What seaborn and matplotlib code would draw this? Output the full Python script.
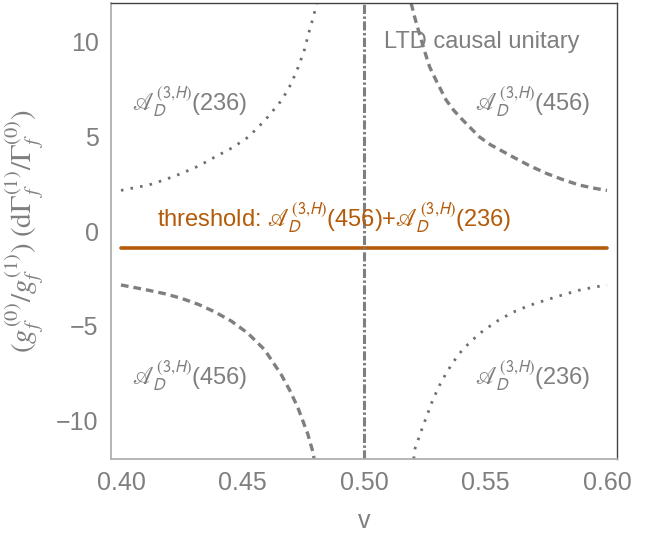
import matplotlib
matplotlib.use("Agg")
import matplotlib.pyplot as plt
import seaborn as sns

# values
# A_D^(3,H)(236), branch left of the pole (dotted, top left)
v_236_left = [0.400, 0.405, 0.4113, 0.418, 0.425, 0.432, 0.4388, 0.446, 0.4525, 0.4593,
              0.4662, 0.470, 0.473, 0.4755, 0.4772, 0.479, 0.4806]
y_236_left = [2.14, 2.27, 2.42, 2.70, 3.04, 3.43, 3.91, 4.40, 4.96, 5.84,
              6.90, 7.75, 8.65, 9.55, 10.40, 11.20, 12.0]
# A_D^(3,H)(236), branch right of the pole (dotted, bottom right)
v_236_right = [0.5205, 0.5208, 0.5242, 0.5283, 0.531, 0.5338, 0.537, 0.5407, 0.5475, 0.5544,
               0.5612, 0.568, 0.575, 0.582, 0.5887, 0.595, 0.600]
y_236_right = [-12.0, -11.53, -10.30, -8.90, -8.15, -7.49, -6.85, -6.22, -5.40, -4.77,
               -4.28, -3.92, -3.63, -3.35, -3.11, -2.95, -2.84]
# A_D^(3,H)(456), branch left of the pole (dashed, bottom left)
v_456_left = [0.400, 0.405, 0.411, 0.418, 0.4248, 0.4318, 0.4385, 0.4454, 0.4522, 0.4591,
              0.4659, 0.4695, 0.4728, 0.4769, 0.4789, 0.4795]
y_456_left = [-2.84, -2.96, -3.11, -3.30, -3.54, -3.86, -4.25, -4.74, -5.38, -6.25,
              -7.55, -8.40, -9.30, -10.70, -11.60, -12.0]
# A_D^(3,H)(456), branch right of the pole (dashed, top right)
v_456_right = [0.5194, 0.521, 0.5228, 0.525, 0.527, 0.530, 0.5338, 0.537, 0.5407, 0.5475,
               0.552, 0.5612, 0.568, 0.575, 0.582, 0.5887, 0.595, 0.600]
y_456_right = [12.0, 11.20, 10.40, 9.45, 8.65, 7.85, 6.90, 6.35, 5.84, 4.96,
               4.55, 3.91, 3.45, 3.04, 2.70, 2.42, 2.25, 2.14]
# threshold: sum of both amplitudes
v_thr = [0.40, 0.45, 0.50, 0.55, 0.60]
y_thr = [-0.90, -0.90, -0.90, -0.90, -0.90]
# LTD causal/unitary pole
v_pole = 0.5

xticks = [0.40, 0.45, 0.50, 0.55, 0.60]
yticks = [-10, -5, 0, 5, 10]

gray = "#7f7f7f"
orange = "#b45a08"

sns.set_style("white")
plt.rcParams["font.family"] = ["Liberation Sans", "DejaVu Sans"]
plt.rcParams["mathtext.fontset"] = "stixsans"

fig = plt.figure(figsize=(6.57, 5.33), dpi=100)
ax = fig.add_axes([0.169, 0.139, 0.770, 0.855])

dot = (0, (0.9, 2.6))
dash = (0, (2.3, 1.5))
sns.lineplot(x=v_236_left, y=y_236_left, ax=ax, color="#6e6e6e", lw=2.0, linestyle=dot)
sns.lineplot(x=v_236_right, y=y_236_right, ax=ax, color="#6e6e6e", lw=2.0, linestyle=dot)
sns.lineplot(x=v_456_left, y=y_456_left, ax=ax, color=gray, lw=2.4, linestyle=dash)
sns.lineplot(x=v_456_right, y=y_456_right, ax=ax, color=gray, lw=2.4, linestyle=dash)
sns.lineplot(x=v_thr, y=y_thr, ax=ax, color=orange, lw=2.6)
ax.axvline(v_pole, color=gray, lw=2.2, linestyle=(0, (3.0, 0.8, 0.8, 0.8)))

ax.set_xlim(0.3959, 0.6041)
ax.set_ylim(-12, 12)
ax.set_xticks(xticks)
ax.set_xticklabels(["%.2f" % t for t in xticks])
ax.set_yticks(yticks)
ax.set_yticklabels([str(t).replace("-", "\u2212") for t in yticks])
ax.tick_params(direction="in", length=5, width=1, color="#a0a0a0",
               labelcolor=gray, labelsize=18, pad=9)

for s in ["left", "bottom"]:
    ax.spines[s].set_color("#b0b0b0")
    ax.spines[s].set_linewidth(1.3)
for s in ["top", "right"]:
    ax.spines[s].set_color("#444444")
    ax.spines[s].set_linewidth(1.0)

ax.set_xlabel("v", color=gray, fontsize=18, labelpad=10)
ax.set_ylabel(r"$(g_f^{(0)}/g_f^{(1)})\;(\mathrm{d}\Gamma_f^{(1)}/\Gamma_f^{(0)})$",
              color=gray, fontsize=21, labelpad=8, math_fontfamily="stix")

amp = r"$\mathscr{A}_D^{(3{,}H)}$"
ax.text(0.5084, 9.95, "LTD causal unitary", color=gray, fontsize=17, va="center")
ax.text(0.4047, 6.8, amp + "(236)", color=gray, fontsize=17, va="center")
ax.text(0.5455, 6.8, amp + "(456)", color=gray, fontsize=17, va="center")
ax.text(0.4047, -7.6, amp + "(456)", color=gray, fontsize=17, va="center")
ax.text(0.5455, -7.6, amp + "(236)", color=gray, fontsize=17, va="center")
ax.text(0.415, 0.7, "threshold: " + amp + "(456)+" + amp + "(236)",
        color=orange, fontsize=17, va="center")

fig.savefig("out.png", dpi=100)
